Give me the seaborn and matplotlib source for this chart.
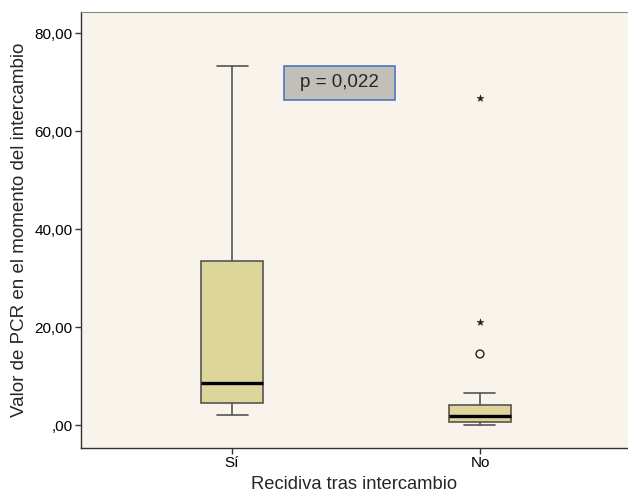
import matplotlib
matplotlib.use("Agg")
import matplotlib.pyplot as plt
from matplotlib.patches import Rectangle
import seaborn as sns
import pandas as pd

# Data
categories = ["Sí", "No"]
whisker_low = [2.0, 0.0]
q1 = [4.5, 0.6]
median = [8.6, 1.8]
q3 = [33.5, 4.1]
whisker_high = [73.2, 6.5]
outlier_group = ["No", "No", "No"]
outlier_value = [66.7, 21.0, 14.5]
outlier_kind = ["extremo", "extremo", "atípico"]
yticks = [0, 20, 40, 60, 80]
ytick_labels = [",00", "20,00", "40,00", "60,00", "80,00"]
p_text = "p = 0,022"

sns.set_style("ticks")
plt.rcParams["font.family"] = ["Liberation Sans", "DejaVu Sans"]

fig = plt.figure(figsize=(6.28, 4.95), dpi=100)
ax = fig.add_axes([81 / 628, 1 - 448 / 495, 1 - 81 / 628, (448 - 11.5) / 495])
ax.set_facecolor("#F8F4EC")

stats = []
for i, c in enumerate(categories):
    stats.append(dict(label=c, whislo=whisker_low[i], q1=q1[i], med=median[i],
                      q3=q3[i], whishi=whisker_high[i], fliers=[]))

edge = "#555555"
ax.bxp(stats, positions=list(range(len(categories))), widths=0.25,
       patch_artist=True, showfliers=False,
       boxprops=dict(facecolor="#DDD59A", edgecolor=edge, linewidth=1.2),
       medianprops=dict(color="black", linewidth=2.4),
       whiskerprops=dict(color=edge, linewidth=1.2),
       capprops=dict(color=edge, linewidth=1.2),
       capwidths=0.125)

out = pd.DataFrame({"grupo": outlier_group, "valor": outlier_value, "tipo": outlier_kind})
out["x"] = out["grupo"].map({c: i for i, c in enumerate(categories)})
ext = out[out["tipo"] == "extremo"]
atp = out[out["tipo"] == "atípico"]
sns.scatterplot(data=ext, x="x", y="valor", marker="*", s=28, color="#222222",
                edgecolor="#222222", linewidth=0.3, ax=ax, legend=False, zorder=5)
sns.scatterplot(data=atp, x="x", y="valor", marker="o", s=32, facecolor="none",
                edgecolor="#222222", linewidth=1.0, ax=ax, legend=False, zorder=5)

ax.set_xlim(-0.609, 1.597)
ax.set_ylim(-4.69, 84.39)
ax.set_xticks(range(len(categories)))
ax.set_xticklabels(categories, fontsize=11)
ax.set_yticks(yticks)
ax.set_yticklabels(ytick_labels, fontsize=11)
ax.set_xlabel("Recidiva tras intercambio", fontsize=13.2, labelpad=4)
ax.set_ylabel("Valor de PCR en el momento del intercambio", fontsize=13.5, labelpad=5)

for s in ["left", "bottom"]:
    ax.spines[s].set_color("#333333")
    ax.spines[s].set_linewidth(1.0)
ax.spines["right"].set_visible(False)
ax.spines["top"].set_visible(True)
ax.spines["top"].set_color("#888888")
ax.tick_params(axis="both", direction="out", length=4, width=1, color="#333333",
               labelcolor="black", pad=2)

# p-value box
ax.add_patch(Rectangle((0.21, 66.3), 0.447, 7.0, facecolor="#C2BEB8",
                       edgecolor="#4A78C0", linewidth=1.2, zorder=6))
ax.text(0.4335, 69.8, p_text, ha="center", va="center", fontsize=13.5, zorder=7)

fig.savefig("out.png", dpi=100, facecolor="white")
